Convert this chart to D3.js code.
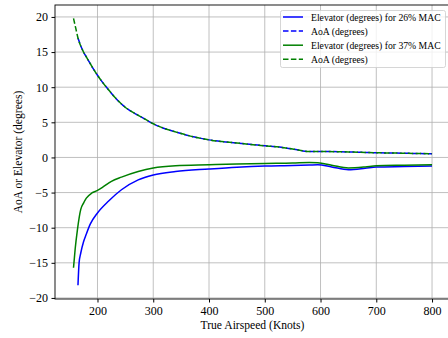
<!DOCTYPE html>
<html lang="en">
<head>
<meta charset="utf-8">
<title>AoA and elevator</title>
<script src="https://d3js.org/d3.v7.min.js"></script>
<style>
  body { margin: 0; background: #fff; }
  svg text { font-family: "Liberation Serif", "DejaVu Serif", serif; fill: #000; }
</style>
</head>
<body>
<svg width="448" height="338"></svg>
<script>
// elevator deflection, 26% MAC (blue)
var speeds26 = [165, 167, 170, 175, 180, 187, 200, 220, 243, 273, 300, 340, 400, 450, 500, 550, 580, 595, 620, 650, 680, 700, 750, 800];
var elev26 = [-18.2, -15, -13.6, -12, -10.9, -9.5, -7.9, -6.2, -4.6, -3.2, -2.5, -2.0, -1.65, -1.4, -1.23, -1.15, -1.08, -1.04, -1.35, -1.75, -1.55, -1.37, -1.3, -1.23];

// elevator deflection, 37% MAC (green)
var speeds37 = [157, 160, 164, 170, 175, 180, 190, 200, 210, 225, 243, 273, 300, 340, 400, 450, 500, 550, 580, 595, 620, 650, 680, 700, 750, 800];
var elev37 = [-15.7, -13, -10.3, -7.4, -6.5, -5.8, -5.06, -4.7, -4.2, -3.4, -2.8, -2.0, -1.5, -1.18, -1.04, -0.93, -0.85, -0.8, -0.72, -0.75, -1.1, -1.5, -1.35, -1.18, -1.1, -1.04];

// angle of attack (same curve for both cases)
var speedsAoA = [157, 161, 165, 172, 183, 200, 219, 243, 282, 300, 350, 400, 450, 500, 526, 550, 580, 600, 650, 700, 750, 800];
var aoa = [19.8, 18.4, 17.0, 15.5, 13.9, 11.7, 9.7, 7.6, 5.6, 4.8, 3.4, 2.5, 2.05, 1.66, 1.47, 1.2, 0.85, 0.85, 0.78, 0.67, 0.6, 0.52];

var xTicks = [200, 300, 400, 500, 600, 700, 800];
var yTicks = [-20, -15, -10, -5, 0, 5, 10, 15, 20];

var legendLabels = ["Elevator (degrees) for 26% MAC", "AoA (degrees)", "Elevator (degrees) for 37% MAC", "AoA (degrees)"];

var svg = d3.select("svg");
var L = 55, T = 5, R = 450, B = 299;

var x = d3.scaleLinear().domain([123.8, 832.2]).range([L, R]);
var y = d3.scaleLinear().domain([-20.15, 21.7]).range([B, T]);

function pairs(xs, ys, from) {
  return xs.map((s, i) => [s, ys[i]]).filter(p => p[0] >= (from || 0));
}

// grid
svg.append("g").selectAll("line").data(xTicks).enter().append("line")
  .attr("x1", d => x(d)).attr("x2", d => x(d)).attr("y1", T).attr("y2", B)
  .attr("stroke", "#b0b0b0").attr("stroke-width", 0.8);
svg.append("g").selectAll("line").data(yTicks).enter().append("line")
  .attr("x1", L).attr("x2", R).attr("y1", d => y(d)).attr("y2", d => y(d))
  .attr("stroke", "#b0b0b0").attr("stroke-width", 0.8);

// axes
var fmt = d => String(d).replace("-", "\u2212");
svg.append("g").attr("transform", "translate(0," + B + ")")
  .call(d3.axisBottom(x).tickValues(xTicks).tickSize(3.5).tickPadding(3.5).tickFormat(fmt))
  .call(g => g.select(".domain").remove())
  .call(g => g.selectAll("text").attr("font-size", 12).attr("font-family", "Liberation Serif"));
svg.append("g").attr("transform", "translate(" + L + ",0)")
  .call(d3.axisLeft(y).tickValues(yTicks).tickSize(3.5).tickPadding(3.5).tickFormat(fmt))
  .call(g => g.select(".domain").remove())
  .call(g => g.selectAll("text").attr("font-size", 12).attr("font-family", "Liberation Serif"));

// spines
svg.append("rect").attr("x", L).attr("y", T).attr("width", R - L).attr("height", B - T)
  .attr("fill", "none").attr("stroke", "#000").attr("stroke-width", 0.9);

var line = d3.line().x(d => x(d[0])).y(d => y(d[1])).curve(d3.curveMonotoneX);

var series = [
  {pts: pairs(speeds26, elev26), color: "blue", dash: null},
  {pts: pairs(speedsAoA, aoa, 165), color: "blue", dash: "5.5,2.4"},
  {pts: pairs(speeds37, elev37), color: "green", dash: null},
  {pts: pairs(speedsAoA, aoa), color: "green", dash: "5.5,2.4"}
];

svg.append("g").selectAll("path").data(series).enter().append("path")
  .attr("d", d => line(d.pts))
  .attr("fill", "none")
  .attr("stroke", d => d.color)
  .attr("stroke-width", 1.5)
  .attr("stroke-dasharray", d => d.dash);

// axis labels
svg.append("text").attr("x", (L + R) / 2).attr("y", 329).attr("text-anchor", "middle")
  .attr("font-size", 11.6).text("True Airspeed (Knots)");
svg.append("text").attr("transform", "translate(21.5," + ((T + B) / 2) + ") rotate(-90)")
  .attr("text-anchor", "middle").attr("font-size", 11.6).text("AoA or Elevator (degrees)");

// legend
var lg = svg.append("g");
lg.append("rect").attr("x", 280.5).attr("y", 10.5).attr("width", 165).attr("height", 57)
  .attr("rx", 2).attr("fill", "#fff").attr("fill-opacity", 0.8)
  .attr("stroke", "#ccc").attr("stroke-width", 0.8);
var rows = lg.selectAll("g.row").data(series).enter().append("g")
  .attr("transform", (d, i) => "translate(0," + (17 + i * 14.1) + ")");
rows.append("line").attr("x1", 283).attr("x2", 303).attr("y1", 0).attr("y2", 0)
  .attr("stroke", d => d.color).attr("stroke-width", 1.5)
  .attr("stroke-dasharray", d => d.dash);
rows.append("text").attr("x", 311).attr("y", 3.5).attr("font-size", 9.7)
  .text((d, i) => legendLabels[i]);
</script>
</body>
</html>
